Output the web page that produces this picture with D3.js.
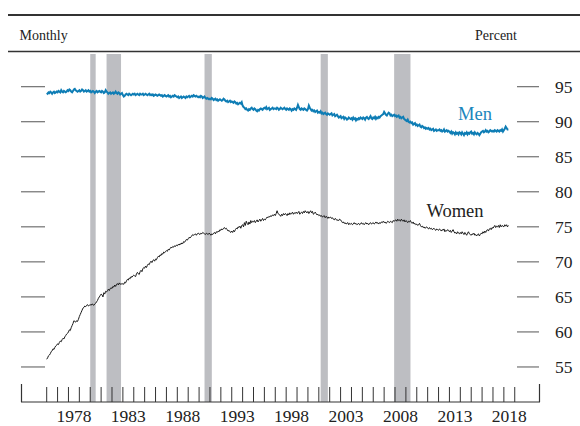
<!DOCTYPE html>
<html><head><meta charset="utf-8">
<script src="https://cdn.jsdelivr.net/npm/d3@7"></script>
<style>html,body{margin:0;padding:0;background:#fff}svg{display:block;font-family:"Liberation Serif","Times New Roman",serif}</style>
</head><body><svg id="c" width="580" height="426"></svg>
<script>
// Monthly data, starting January 1976
const startYear = 1976;
const menValues = [
94.1,94.0,94.2,94.1,94.3,94.2,94.0,94.2,94.3,94.1,94.2,94.3,
94.2,94.4,94.3,94.2,94.5,94.3,94.2,94.4,94.3,94.2,94.3,94.5,
94.4,94.6,94.5,94.3,94.2,94.4,94.6,94.7,94.5,94.4,94.3,94.4,
94.5,94.3,94.4,94.6,94.5,94.3,94.4,94.5,94.3,94.4,94.5,94.3,
94.4,94.2,94.3,94.4,94.3,94.1,94.3,94.4,94.2,94.3,94.4,94.3,
94.2,94.4,94.3,94.1,94.2,94.5,94.3,94.2,94.0,94.1,94.2,94.0,
94.1,94.2,94.0,94.1,94.3,94.1,94.0,94.2,94.1,93.9,94.0,94.1,
93.8,93.6,93.7,93.9,94.0,93.9,93.8,94.0,93.9,93.8,93.9,94.0,
93.9,94.0,93.8,93.9,94.0,93.9,93.8,94.0,93.9,93.9,94.0,93.8,
93.9,94.0,93.9,93.8,93.9,94.0,93.8,93.9,93.8,93.9,93.7,93.8,
93.9,93.8,93.7,93.8,93.9,93.8,93.7,93.8,93.6,93.7,93.8,93.7,
93.6,93.7,93.8,93.6,93.7,93.5,93.6,93.7,93.6,93.8,93.7,93.6,
93.5,93.6,93.4,93.5,93.6,93.4,93.5,93.6,93.5,93.4,93.6,93.5,
93.6,93.7,93.5,93.6,93.7,93.6,93.8,93.7,93.6,93.7,93.6,93.5,
93.6,93.5,93.7,93.6,93.4,93.5,93.6,93.4,93.3,93.4,93.3,93.2,
93.3,93.2,93.4,93.3,93.1,93.2,93.3,93.1,93.2,93.0,93.1,93.2,
93.1,93.0,93.1,93.3,93.2,93.0,92.9,93.0,92.8,92.9,93.0,92.8,
92.9,92.8,92.7,92.9,92.8,92.6,92.7,92.5,92.6,92.7,92.6,92.8,
92.3,92.1,92.0,91.8,91.9,91.7,91.6,91.8,91.7,91.9,92.0,91.8,
91.7,91.9,91.8,91.6,91.5,91.7,91.6,91.8,91.9,91.8,91.7,91.9,
92.0,91.9,92.1,91.8,91.9,92.0,91.7,91.8,91.9,92.0,91.8,91.9,
91.9,91.8,92.0,91.9,91.7,91.8,92.0,91.9,91.8,91.9,92.0,91.8,
91.7,91.9,91.8,91.7,91.9,91.8,91.6,91.8,91.7,91.9,91.8,91.7,
92.0,92.4,92.1,91.8,91.7,91.9,91.8,91.7,91.9,91.8,91.7,91.6,
91.8,92.3,92.0,91.8,91.6,91.7,91.5,91.6,91.4,91.5,91.6,91.3,
91.4,91.3,91.5,91.2,91.3,91.1,91.2,91.3,91.1,91.0,91.2,91.1,
91.0,91.1,91.2,90.9,91.0,91.1,90.8,90.9,91.0,90.8,90.6,90.7,
90.8,90.5,90.6,90.7,90.4,90.6,90.5,90.3,90.4,90.6,90.5,90.4,
90.5,90.3,90.6,90.4,90.5,90.2,90.4,90.3,90.5,90.4,90.6,90.5,
90.4,90.6,90.5,90.3,90.6,90.7,90.5,90.4,90.6,90.8,90.5,90.4,
90.6,90.5,90.7,90.4,90.6,90.5,90.7,90.6,90.8,90.9,91.0,91.1,
91.4,91.2,91.0,90.9,91.1,91.3,91.2,90.9,91.0,90.8,90.9,91.0,
90.8,90.9,90.7,90.8,90.9,90.6,90.7,90.5,90.6,90.7,90.4,90.3,
90.2,90.1,90.3,90.0,89.9,90.0,89.8,89.9,89.6,89.7,89.8,89.5,
89.6,89.4,89.5,89.6,89.3,89.2,89.4,89.3,89.1,89.2,89.0,89.1,
89.0,89.1,88.9,89.0,88.8,88.9,89.0,88.7,88.8,88.9,88.7,88.8,
88.8,88.9,88.7,88.8,88.6,88.7,88.9,88.6,88.7,88.8,88.6,88.7,
88.6,88.4,88.6,88.3,88.5,88.4,88.2,88.5,88.3,88.4,88.2,88.5,
88.4,88.2,88.5,88.3,88.1,88.4,88.3,88.5,88.2,88.4,88.3,88.5,
88.6,88.3,88.4,88.2,88.5,88.3,88.2,88.4,88.3,88.1,88.3,88.5,
88.6,88.7,88.5,88.6,88.8,88.6,88.7,88.5,88.6,88.8,88.7,88.6,
88.7,88.6,88.8,88.7,88.6,88.8,88.7,88.6,88.8,88.7,88.9,88.6,
88.8,89.0,89.3,89.1,88.9,88.9
];
const womenValues = [
56.1,56.3,56.6,56.7,56.9,57.2,57.3,57.6,57.5,57.8,58.0,58.1,
58.3,58.2,58.5,58.7,58.6,58.9,59.1,59.0,59.3,59.5,59.7,59.8,
60.0,60.3,60.2,60.6,60.9,61.2,61.6,61.5,61.4,61.6,61.5,61.8,
62.2,62.5,62.8,63.1,63.4,63.5,63.7,63.6,63.8,63.9,63.7,63.8,
63.9,63.8,64.0,63.9,63.8,64.0,64.1,64.3,64.5,64.8,65.0,65.2,
65.4,65.3,65.0,65.6,65.4,65.8,65.7,65.9,66.1,65.9,66.2,66.3,
66.2,66.5,66.4,66.7,66.5,66.8,66.9,66.7,67.0,66.8,66.9,66.8,
66.9,66.8,67.1,67.0,67.3,67.5,67.4,67.7,67.6,67.9,67.8,68.0,
68.1,68.0,67.9,68.3,68.5,68.3,68.2,68.6,68.8,68.6,69.0,69.2,
69.1,69.4,69.2,69.5,69.7,69.6,69.9,70.1,69.9,70.2,70.3,70.1,
70.4,70.3,70.6,70.8,70.7,71.0,70.9,71.2,71.1,71.4,71.3,71.5,
71.6,71.5,71.8,71.7,71.9,72.1,72.0,72.2,72.1,72.3,72.2,72.4,
72.3,72.5,72.4,72.6,72.5,72.7,72.6,72.9,72.8,73.0,73.2,73.1,
73.3,73.5,73.4,73.6,73.7,73.9,73.8,73.9,74.0,73.8,74.0,74.1,
74.0,73.9,74.1,74.0,74.2,74.1,74.0,73.9,74.1,74.0,73.9,74.1,
74.0,73.8,74.0,73.9,74.1,74.2,74.0,74.3,74.2,74.4,74.3,74.6,
74.5,74.7,74.6,74.8,74.9,74.7,74.8,74.6,74.4,74.5,74.3,74.2,
74.4,74.2,74.5,74.3,74.6,74.8,74.7,75.0,74.9,75.1,74.8,75.2,
75.3,75.0,75.6,75.2,75.8,75.5,75.3,75.7,75.4,75.9,75.6,75.8,
75.7,75.9,75.6,75.8,76.0,75.7,75.9,76.1,75.8,76.0,76.2,75.9,
76.1,76.0,76.2,76.4,76.3,76.5,76.4,76.6,76.5,76.7,76.6,76.8,
76.6,76.9,77.3,76.9,76.8,76.7,76.5,76.8,76.6,76.9,76.7,76.9,
76.8,76.6,76.9,76.7,77.0,76.8,76.9,77.1,76.8,77.0,76.9,77.1,
76.9,77.0,77.2,76.8,77.0,77.1,76.9,77.2,77.0,77.3,77.1,77.0,
77.2,76.9,77.1,77.3,77.0,77.2,76.8,76.9,77.1,76.9,76.7,76.8,
76.6,76.7,76.5,76.6,76.4,76.5,76.6,76.3,76.5,76.4,76.2,76.4,
76.3,76.4,76.2,76.3,76.1,76.0,76.2,76.1,75.9,76.0,75.9,76.1,
76.0,75.8,75.6,75.7,75.5,75.6,75.4,75.5,75.6,75.3,75.5,75.4,
75.5,75.3,75.4,75.6,75.4,75.5,75.3,75.4,75.5,75.3,75.4,75.6,
75.4,75.5,75.3,75.5,75.6,75.4,75.5,75.3,75.5,75.6,75.4,75.5,
75.6,75.4,75.5,75.7,75.5,75.6,75.4,75.6,75.5,75.7,75.6,75.8,
75.6,75.7,75.5,75.6,75.8,75.7,75.6,75.8,75.7,75.6,75.9,75.8,
75.9,76.0,75.8,76.1,75.9,76.0,75.8,76.1,75.9,75.8,76.0,75.7,
75.9,75.8,75.6,75.8,75.7,75.9,75.6,75.5,75.7,75.4,75.5,75.3,
75.4,75.2,75.3,75.5,75.2,75.0,75.1,74.9,75.0,74.8,74.9,75.0,
74.8,74.7,74.9,74.7,74.8,74.6,74.7,74.8,74.6,74.5,74.7,74.6,
74.5,74.7,74.6,74.4,74.6,74.5,74.7,74.3,74.5,74.4,74.6,74.5,
74.3,74.5,74.2,74.4,74.6,74.3,74.1,74.2,74.0,74.3,74.1,74.0,
74.2,74.0,74.3,74.1,73.9,74.2,74.0,73.8,74.1,74.3,74.0,73.9,
73.8,74.0,73.9,74.1,73.8,73.9,73.7,73.9,74.0,73.7,73.9,74.1,
74.0,74.3,74.1,74.4,74.2,74.5,74.6,74.4,74.7,74.8,74.6,74.9,
74.8,75.0,75.2,74.9,75.1,75.0,75.2,74.9,75.3,75.0,75.2,75.1,
75.0,75.3,75.1,75.3,75.0,75.2
];
// Recession periods (decimal years)
const recessionStarts = [1980.0, 1981.5, 1990.5, 2001.17, 2007.92];
const recessionEnds   = [1980.5, 1982.83, 1991.17, 2001.83, 2009.42];
const yTicks = [55, 60, 65, 70, 75, 80, 85, 90, 95];
const xLabelYears = [1978, 1983, 1988, 1993, 1998, 2003, 2008, 2013, 2018];
const xTickYears = d3.range(1976, 2020);

const svg = d3.select("#c");
const x = d3.scaleLinear().domain([1973.64, 2021.32]).range([21, 540]);
const y = d3.scaleLinear().domain([50, 100]).range([402, 51.7]);
const monthDate = i => startYear + i / 12;

// header rules & labels
svg.append("line").attr("x1", 8).attr("x2", 580).attr("y1", 15).attr("y2", 15).attr("stroke", "#333").attr("stroke-width", 2);
svg.append("line").attr("x1", 8).attr("x2", 580).attr("y1", 51.5).attr("y2", 51.5).attr("stroke", "#333").attr("stroke-width", 1.3);
svg.append("text").attr("x", 19.5).attr("y", 39.5).attr("font-size", 14).attr("fill", "#222").text("Monthly");
svg.append("text").attr("x", 517).attr("y", 39.5).attr("font-size", 14).attr("fill", "#222").attr("text-anchor", "end").text("Percent");

// recession bars
svg.append("g").selectAll("rect").data(recessionStarts).join("rect")
  .attr("x", (d) => x(d))
  .attr("width", (d, i) => x(recessionEnds[i]) - x(d))
  .attr("y", 54).attr("height", 402 - 54)
  .attr("fill", "#bdbec2");

// y ticks (both sides)
const yg = svg.append("g");
yTicks.forEach(v => {
  yg.append("line").attr("x1", 21).attr("x2", 45).attr("y1", y(v)).attr("y2", y(v)).attr("stroke", "#555").attr("stroke-width", 1);
  yg.append("line").attr("x1", 517).attr("x2", 539).attr("y1", y(v)).attr("y2", y(v)).attr("stroke", "#555").attr("stroke-width", 1);
  yg.append("text").attr("x", 555).attr("y", y(v) + 6).attr("font-size", 17.5).attr("fill", "#222").text(v);
});

// x axis
const xg = svg.append("g");
xg.append("line").attr("x1", 21).attr("x2", 540).attr("y1", 402).attr("y2", 402).attr("stroke", "#333").attr("stroke-width", 1.2);
xg.append("line").attr("x1", 21.5).attr("x2", 21.5).attr("y1", 384).attr("y2", 402).attr("stroke", "#333").attr("stroke-width", 1.2);
xg.append("line").attr("x1", 539.5).attr("x2", 539.5).attr("y1", 384).attr("y2", 402).attr("stroke", "#333").attr("stroke-width", 1.2);
xg.selectAll(".t").data(xTickYears).join("line").attr("class", "t")
  .attr("x1", d => x(d)).attr("x2", d => x(d)).attr("y1", 387).attr("y2", 402)
  .attr("stroke", "#333").attr("stroke-width", 1);
xg.selectAll(".l").data(xLabelYears).join("text").attr("class", "l")
  .attr("x", d => x(d + 0.5)).attr("y", 421.5).attr("text-anchor", "middle")
  .attr("font-size", 17.5).attr("fill", "#222").text(d => d);

// lines
const line = d3.line().x((d, i) => x(monthDate(i))).y(d => y(d));
svg.append("path").datum(womenValues).attr("d", line).attr("fill", "none").attr("stroke", "#1a1a1a").attr("stroke-width", 1);
svg.append("path").datum(menValues).attr("d", line).attr("fill", "none").attr("stroke", "#0e7db5").attr("stroke-width", 2);

svg.append("text").attr("x", 458).attr("y", 119.5).attr("font-size", 18.5).attr("fill", "#1a86bd").text("Men");
svg.append("text").attr("x", 426.5).attr("y", 217).attr("font-size", 18.5).attr("fill", "#222").text("Women");
</script></body></html>
